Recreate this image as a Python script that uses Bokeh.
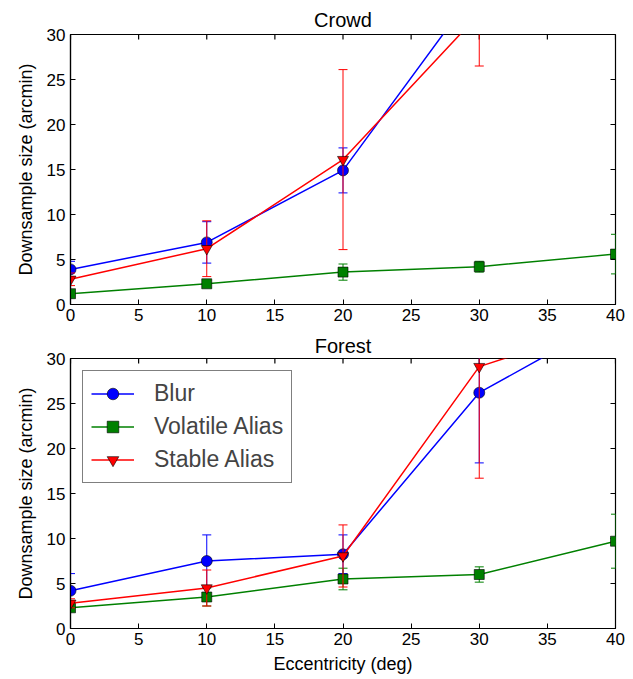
from bokeh.plotting import figure
from bokeh.layouts import column
from bokeh.models import (Legend, LegendItem, FixedTicker, Range1d,
                          ColumnDataSource)
from bokeh.embed import file_html
from bokeh.resources import INLINE

# ---------------- data ----------------
eccentricity = [0, 10, 20, 30, 40]

crowd_blur = [3.9, 6.9, 14.9, 35.5, 45.0]
crowd_blur_err = [0.9, 2.3, 2.5, 4.0, 5.0]
crowd_volatile = [1.2, 2.3, 3.6, 4.2, 5.6]
crowd_volatile_err = [0.3, 0.4, 0.9, 0.6, 2.2]
crowd_stable = [2.8, 6.2, 16.1, 32.3, 40.0]
crowd_stable_err = [0.7, 3.1, 10.0, 5.8, 5.0]

forest_blur = [4.2, 7.5, 8.25, 26.2, 34.6]
forest_blur_err = [1.9, 2.9, 2.15, 7.8, 3.5]
forest_volatile = [2.3, 3.5, 5.5, 6.0, 9.7]
forest_volatile_err = [0.4, 1.0, 1.2, 0.85, 3.0]
forest_stable = [2.8, 4.5, 8.06, 29.1, 34.0]
forest_stable_err = [0.5, 2.0, 3.45, 12.4, 3.0]

x_ticks = [0, 5, 10, 15, 20, 25, 30, 35, 40]
y_ticks = [0, 5, 10, 15, 20, 25, 30]
x_min, x_max = 0, 40
y_min, y_max = 0, 30

series_names = ["Blur", "Volatile Alias", "Stable Alias"]
series_colors = ["#0000ff", "#008000", "#ff0000"]
series_markers = ["circle", "square", "inverted_triangle"]
series_sizes = [11, 10, 11]

FONT = "Liberation Sans"


def add_series(p, x, y, err, color, marker, size):
    lower = [v - e for v, e in zip(y, err)]
    upper = [v + e for v, e in zip(y, err)]
    src = ColumnDataSource(dict(x=x, y=y, lower=lower, upper=upper))
    p.segment(x0="x", y0="lower", x1="x", y1="upper", source=src,
              line_color=color, line_width=1)
    p.scatter("x", "upper", marker="dash", size=9, line_color=color,
              line_width=1, source=src)
    p.scatter("x", "lower", marker="dash", size=9, line_color=color,
              line_width=1, source=src)
    ln = p.line("x", "y", source=src, line_color=color, line_width=1.5)
    sc = p.scatter("x", "y", marker=marker, size=size, fill_color=color,
                   line_color="black", line_width=0.6, source=src)
    return [ln, sc]


def make_fig(title, ys, errs, xlabel, legend, border_top, border_bottom,
             title_standoff):
    p = figure(frame_width=545, frame_height=270,
               x_range=Range1d(x_min, x_max), y_range=Range1d(y_min, y_max),
               output_backend="svg", toolbar_location=None,
               min_border_left=70, min_border_right=10,
               min_border_top=border_top, min_border_bottom=border_bottom,
               title=title)
    p.title.text_font = FONT
    p.title.text_font_size = "20px"
    p.title.text_font_style = "normal"
    p.title.text_color = "black"
    p.title.align = "center"
    p.title.standoff = title_standoff
    p.grid.visible = False
    p.outline_line_color = "black"
    p.outline_line_width = 1.2
    p.background_fill_color = "white"
    p.border_fill_color = "white"

    p.xaxis.ticker = FixedTicker(ticks=x_ticks)
    p.yaxis.ticker = FixedTicker(ticks=y_ticks)
    for ax in (p.xaxis[0], p.yaxis[0]):
        ax.major_tick_in = 5
        ax.major_tick_out = 0
        ax.minor_tick_line_color = None
        ax.axis_line_color = "black"
        ax.axis_line_width = 1.2
        ax.major_tick_line_color = "black"
        ax.major_label_text_font = FONT
        ax.major_label_text_font_size = "17px"
        ax.major_label_text_color = "black"
        ax.axis_label_text_font = FONT
        ax.axis_label_text_font_size = "18px"
        ax.axis_label_text_font_style = "normal"
        ax.axis_label_text_color = "black"
    p.xaxis.major_label_standoff = 4
    p.yaxis.major_label_standoff = 5
    p.yaxis.axis_label = "Downsample size (arcmin)"
    p.yaxis.axis_label_standoff = 8
    if xlabel:
        p.xaxis.axis_label = xlabel
        p.xaxis.axis_label_standoff = 6

    # inward ticks on the top and right edges of the frame
    p.ray(x=x_ticks, y=[y_max] * len(x_ticks), length=5, angle=-90,
          angle_units="deg", length_units="screen", line_color="black",
          line_width=1.2)
    p.ray(x=[x_max] * len(y_ticks), y=y_ticks, length=5, angle=180,
          angle_units="deg", length_units="screen", line_color="black",
          line_width=1.2)

    items = []
    for name, y, e, c, m, s in zip(series_names, ys, errs, series_colors,
                                   series_markers, series_sizes):
        rs = add_series(p, eccentricity, y, e, c, m, s)
        items.append(LegendItem(label=name, renderers=rs))

    if legend:
        lg = Legend(items=items, location="top_left")
        lg.margin = 12
        lg.padding = 8
        lg.spacing = 4
        lg.label_height = 29
        lg.glyph_height = 29
        lg.glyph_width = 43
        lg.label_standoff = 20
        lg.label_text_font = FONT
        lg.label_text_font_size = "23px"
        lg.border_line_color = "black"
        lg.border_line_width = 1.2
        lg.background_fill_alpha = 1.0
        p.add_layout(lg)
    return p


p1 = make_fig("Crowd",
              [crowd_blur, crowd_volatile, crowd_stable],
              [crowd_blur_err, crowd_volatile_err, crowd_stable_err],
              None, False, 34, 26, 8)
p2 = make_fig("Forest",
              [forest_blur, forest_volatile, forest_stable],
              [forest_blur_err, forest_volatile_err, forest_stable_err],
              "Eccentricity (deg)", True, 28, 0, 4)

layout = column(p1, p2, spacing=0)
open("out.html", "w").write(file_html(layout, INLINE))
